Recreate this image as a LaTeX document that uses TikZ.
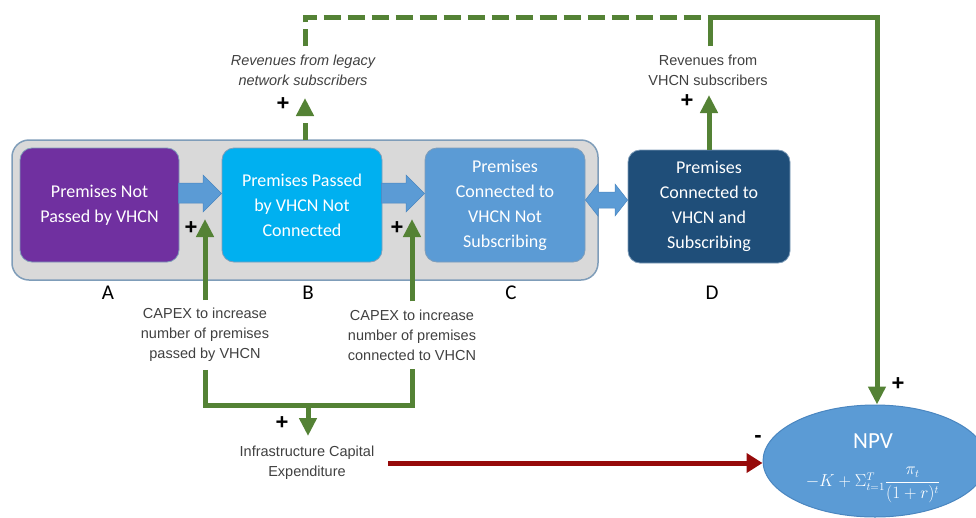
\documentclass[tikz,border=0pt]{standalone}
\usepackage{fontspec}
\newfontfamily\carlito{Carlito}
\newfontfamily\arialf{Liberation Sans}
\usetikzlibrary{shapes.geometric,arrows.meta,calc}
\definecolor{gbox}{HTML}{D9D9D9}
\definecolor{gborder}{HTML}{7F9DB9}
\definecolor{cA}{HTML}{7030A0}
\definecolor{cB}{HTML}{00B0F0}
\definecolor{cC}{HTML}{5B9BD5}
\definecolor{cD}{HTML}{1F4E79}
\definecolor{barrow}{HTML}{5B9BD5}
\definecolor{barrowb}{HTML}{4A86C0}
\definecolor{grn}{HTML}{548235}
\definecolor{dred}{HTML}{960A0A}
\definecolor{lbl}{HTML}{404040}
\begin{document}
\begin{tikzpicture}[x=1pt,y=-1pt,
  stagebox/.style={rounded corners=12pt, draw=gborder, line width=0.8pt, text=white,
    align=center, inner sep=0pt, font=\carlito\fontsize{18}{25}\selectfont},
  lettr/.style={font=\carlito\fontsize{21}{22}\selectfont, text=black},
  smalllbl/.style={font=\arialf\fontsize{14.5}{20}\selectfont, text=lbl, align=center, inner xsep=0pt, inner ysep=8pt},
  plussign/.style={font=\arialf\bfseries\fontsize{22}{22}\selectfont, text=black, inner sep=0pt},
  gline/.style={draw=grn, line width=5pt},
  garrow/.style={gline, -{Triangle[width=17pt,length=18pt]}},
  dashg/.style={draw=grn, line width=5pt, dash pattern=on 17pt off 7pt},
  blockarrow/.style={fill=barrow, draw=barrowb, line width=0.5pt}
]
\useasboundingbox (0,0) rectangle (976,517);

% container
\node[rounded corners=17pt, fill=gbox, draw=gborder, line width=1.5pt,
  minimum width=586pt, minimum height=140pt, inner sep=0pt] (cont) at (305,210) {};

% stage boxes
\node[stagebox, fill=cA, minimum width=159pt, minimum height=114pt] (A) at (99.5,205) {Premises Not\\Passed by VHCN};
\node[stagebox, fill=cB, minimum width=160pt, minimum height=114pt] (B) at (302,205) {Premises Passed\\by VHCN Not\\Connected};
\node[stagebox, fill=cC, minimum width=160pt, minimum height=114pt] (C) at (505,205) {Premises\\Connected to\\VHCN Not\\Subscribing};
\node[stagebox, fill=cD, minimum width=162pt, minimum height=113pt] (D) at (709,206.5) {Premises\\Connected to\\VHCN and\\Subscribing};

% block arrows
\fill[blockarrow] ($(A.east)+(-1,-22)$) -- (203,183) -- (203,175) -- (B.west |- 0,193.5) -- (203,212) -- (203,203) -- ($(A.east)+(-1,-2)$) -- cycle;
\fill[blockarrow] ($(B.east)+(-1,-22)$) -- (406,183) -- (406,175) -- (C.west |- 0,193.5) -- (406,212) -- (406,203) -- ($(B.east)+(-1,-2)$) -- cycle;
\fill[blockarrow] (C.east |- 0,200) -- (598,184) -- (598,192) -- (615,192) -- (615,184) -- (D.west |- 0,200) -- (615,216) -- (615,208) -- (598,208) -- (598,216) -- cycle;

% letters
\node[lettr] (lA) at (108,293) {A};
\node[lettr] (lB) at (308,293) {B};
\node[lettr] (lC) at (511,293) {C};
\node[lettr] (lD) at (712,293) {D};

% CAPEX labels
\node[smalllbl] (cap1) at (205,335) {CAPEX to increase\\number of premises\\passed by VHCN};
\node[smalllbl] (cap2) at (412,335) {CAPEX to increase\\number of premises\\connected to VHCN};
\coordinate (tipA) at (205,219);
\coordinate (tipB) at (412,219);
\draw[garrow] (cap1.north) -- (tipA);
\draw[garrow] (cap2.north) -- (tipB);
\node[plussign] (p1) at (191,228) {+};
\node[plussign] (p2) at (397,228) {+};

% infrastructure
\node[smalllbl] (infra) at (307,463) {Infrastructure Capital\\Expenditure};
\coordinate (join) at (308,405);
\coordinate (infratip) at (308,436);
\draw[gline, line join=miter] (cap1.south) -- (cap1.south |- join) -- (cap2.south |- join) -- (cap2.south);
\draw[garrow] (join) -- (infratip);
\node[plussign] (p3) at (282,423) {+};

% NPV
\node[ellipse, fill=cC, draw=barrowb, line width=1pt, minimum width=224pt, minimum height=112pt, inner sep=0pt] (npv) at (875,461) {};
\node[font=\carlito\fontsize{23}{23}\selectfont, text=white, inner sep=0pt] (npvt) at (873,441) {NPV};
\node[text=white, font=\fontsize{16}{17}\selectfont, inner sep=0pt] (npvf) at (873,485) {$-K+\Sigma_{t=1}^{T}\displaystyle\frac{\pi_t}{(1+r)^t}$};

\coordinate (redstart) at (388,463);
\draw[draw=dred, line width=5pt, -{Triangle[width=19pt,length=16pt]}] (redstart) -- (npv.west |- redstart);
\node[plussign] (m1) at (758,439) {-};

% revenues
\node[smalllbl, font=\arialf\itshape\fontsize{14.5}{20}\selectfont] (legacy) at (303,70) {Revenues from legacy\\network subscribers};
\node[smalllbl] (vrev) at (708,70) {Revenues from\\VHCN subscribers};
\coordinate (legtip) at (305,98);
\coordinate (legbase) at (305,140);
\draw[dashg, -{Triangle[width=17pt,length=18pt]}] (legbase) -- (legtip);
\node[plussign] (p4) at (283,104) {+};
\coordinate (vtip) at (709,95);
\draw[garrow] (D.north) -- (vtip);
\node[plussign] (p5) at (687,101) {+};

\coordinate (tl) at (305,17);
\coordinate (tm) at (710,17);
\coordinate (tr) at (877,17);
\draw[dashg] (legacy.north -| tl) -- (tl) -- (tm);
\draw[garrow, line join=miter] (vrev.north -| tm) -- (tm) -- (tr) -- (tr |- npv.north);
\node[plussign] (p6) at (898,384) {+};
\end{tikzpicture}
\end{document}
